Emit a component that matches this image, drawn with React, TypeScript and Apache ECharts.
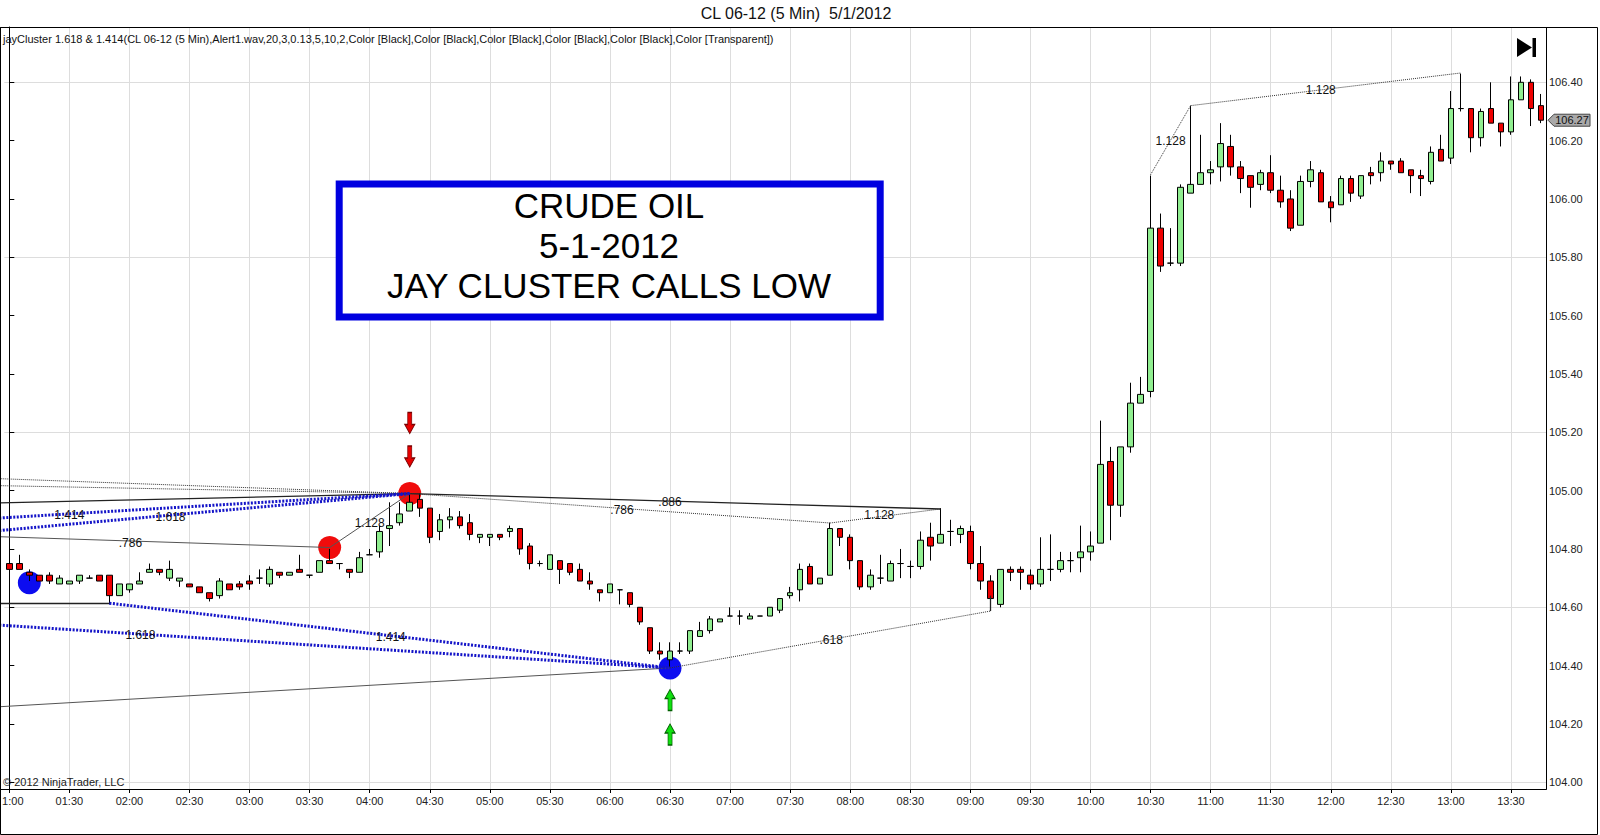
import React, { useEffect, useRef } from "react";
import * as echarts from "echarts";

// ---------- categories (5-minute bars, 01:00 .. 13:45) ----------
const times: string[] = [];
for (let m = 60; m <= 13 * 60 + 45; m += 5) {
  const h = Math.floor(m / 60);
  const mm = m % 60;
  times.push(`${h < 10 ? "0" : ""}${h}:${mm < 10 ? "0" : ""}${mm}`);
}

// ---------- OHLC values ----------
const opens = [
  104.75, 104.75, 104.72, 104.71, 104.71, 104.68, 104.68, 104.69, 104.70, 104.71,
  104.71, 104.64, 104.66, 104.68, 104.72, 104.73, 104.70, 104.69, 104.68, 104.67,
  104.65, 104.64, 104.68, 104.68, 104.69, 104.70, 104.68, 104.72, 104.71, 104.73,
  104.71, 104.72, 104.76, 104.75, 104.73, 104.72, 104.78, 104.79, 104.87, 104.89,
  104.93, 104.97, 104.94, 104.86, 104.90, 104.91, 104.89, 104.84, 104.84, 104.85,
  104.86, 104.87, 104.81, 104.75, 104.73, 104.76, 104.75, 104.73, 104.69, 104.66,
  104.65, 104.66, 104.65, 104.60, 104.53, 104.45, 104.42, 104.45, 104.45, 104.50,
  104.52, 104.55, 104.57, 104.57, 104.56, 104.57, 104.57, 104.59, 104.64, 104.66,
  104.74, 104.68, 104.71, 104.87, 104.84, 104.76, 104.67, 104.70, 104.69, 104.75,
  104.74, 104.74, 104.84, 104.82, 104.86, 104.85, 104.86, 104.75, 104.69, 104.61,
  104.73, 104.73, 104.71, 104.68, 104.73, 104.73, 104.76, 104.77, 104.79, 104.82,
  105.10, 104.95, 105.15, 105.30, 105.34, 105.90, 105.78, 105.78, 106.02, 106.05,
  106.09, 106.11, 106.18, 106.11, 106.08, 106.05, 106.09, 106.03, 106.00, 105.91,
  106.06, 106.09, 105.99, 105.98, 106.07, 106.01, 106.09, 106.09, 106.13, 106.13,
  106.10, 106.08, 106.06, 106.17, 106.14, 106.31, 106.31, 106.21, 106.31, 106.26,
  106.23, 106.34, 106.40, 106.32,
];
const closes = [
  104.73, 104.73, 104.71, 104.69, 104.69, 104.70, 104.69, 104.71, 104.70, 104.69,
  104.64, 104.68, 104.68, 104.69, 104.73, 104.72, 104.73, 104.70, 104.67, 104.65,
  104.63, 104.69, 104.66, 104.67, 104.68, 104.70, 104.73, 104.71, 104.72, 104.72,
  104.71, 104.76, 104.75, 104.75, 104.72, 104.77, 104.78, 104.86, 104.88, 104.92,
  104.96, 104.94, 104.84, 104.90, 104.91, 104.88, 104.85, 104.85, 104.85, 104.84,
  104.87, 104.80, 104.75, 104.75, 104.78, 104.73, 104.72, 104.69, 104.68, 104.65,
  104.68, 104.66, 104.61, 104.55, 104.45, 104.44, 104.45, 104.45, 104.52, 104.52,
  104.56, 104.56, 104.57, 104.57, 104.57, 104.57, 104.60, 104.63, 104.65, 104.73,
  104.68, 104.70, 104.87, 104.84, 104.76, 104.67, 104.71, 104.70, 104.75, 104.75,
  104.74, 104.83, 104.81, 104.85, 104.86, 104.87, 104.75, 104.69, 104.63, 104.73,
  104.72, 104.72, 104.68, 104.73, 104.73, 104.76, 104.76, 104.79, 104.81, 105.09,
  104.95, 105.15, 105.30, 105.33, 105.90, 105.77, 105.78, 106.04, 106.05, 106.09,
  106.10, 106.19, 106.11, 106.07, 106.04, 106.09, 106.03, 105.99, 105.90, 106.06,
  106.10, 105.99, 105.97, 106.07, 106.02, 106.08, 106.08, 106.13, 106.12, 106.09,
  106.08, 106.07, 106.16, 106.13, 106.31, 106.31, 106.21, 106.30, 106.26, 106.23,
  106.34, 106.40, 106.31, 106.27,
];
const lows = [
  104.73, 104.73, 104.69, 104.69, 104.68, 104.68, 104.68, 104.68, 104.70, 104.69,
  104.61, 104.64, 104.65, 104.68, 104.72, 104.71, 104.69, 104.67, 104.67, 104.65,
  104.62, 104.63, 104.66, 104.66, 104.66, 104.68, 104.67, 104.70, 104.71, 104.72,
  104.70, 104.72, 104.75, 104.73, 104.70, 104.72, 104.78, 104.77, 104.81, 104.88,
  104.93, 104.91, 104.82, 104.83, 104.87, 104.87, 104.83, 104.82, 104.81, 104.83,
  104.84, 104.78, 104.73, 104.74, 104.73, 104.68, 104.71, 104.69, 104.66, 104.62,
  104.65, 104.61, 104.60, 104.54, 104.44, 104.42, 104.39, 104.44, 104.44, 104.50,
  104.51, 104.55, 104.57, 104.54, 104.56, 104.57, 104.57, 104.58, 104.63, 104.62,
  104.68, 104.68, 104.71, 104.81, 104.73, 104.66, 104.66, 104.68, 104.69, 104.70,
  104.70, 104.73, 104.76, 104.82, 104.81, 104.82, 104.73, 104.66, 104.62, 104.60,
  104.69, 104.66, 104.66, 104.67, 104.69, 104.72, 104.72, 104.72, 104.76, 104.82,
  104.83, 104.91, 105.13, 105.30, 105.32, 105.75, 105.77, 105.77, 106.02, 106.05,
  106.05, 106.06, 106.08, 106.02, 105.97, 106.03, 106.02, 105.97, 105.89, 105.91,
  106.04, 105.99, 105.92, 105.98, 105.99, 106.00, 106.05, 106.06, 106.10, 106.09,
  106.02, 106.01, 106.05, 106.13, 106.12, 106.30, 106.16, 106.18, 106.26, 106.18,
  106.22, 106.34, 106.25, 106.26,
];
const highs = [
  104.76, 104.78, 104.73, 104.71, 104.72, 104.71, 104.69, 104.71, 104.71, 104.71,
  104.71, 104.68, 104.68, 104.72, 104.75, 104.73, 104.76, 104.70, 104.68, 104.67,
  104.65, 104.70, 104.68, 104.69, 104.71, 104.73, 104.74, 104.72, 104.72, 104.78,
  104.71, 104.76, 104.80, 104.75, 104.73, 104.79, 104.80, 104.88, 104.96, 104.96,
  104.99, 104.99, 104.94, 104.92, 104.94, 104.93, 104.92, 104.85, 104.85, 104.85,
  104.88, 104.87, 104.82, 104.76, 104.78, 104.76, 104.75, 104.75, 104.72, 104.66,
  104.68, 104.66, 104.65, 104.60, 104.53, 104.48, 104.48, 104.48, 104.52, 104.55,
  104.57, 104.56, 104.60, 104.59, 104.58, 104.57, 104.60, 104.63, 104.67, 104.75,
  104.75, 104.70, 104.89, 104.87, 104.85, 104.76, 104.73, 104.78, 104.76, 104.80,
  104.76, 104.86, 104.89, 104.94, 104.90, 104.88, 104.88, 104.81, 104.71, 104.73,
  104.74, 104.74, 104.73, 104.84, 104.85, 104.79, 104.79, 104.88, 104.86, 105.24,
  105.15, 105.15, 105.37, 105.39, 106.08, 105.95, 105.90, 106.05, 106.32, 106.22,
  106.13, 106.26, 106.22, 106.13, 106.08, 106.10, 106.15, 106.08, 106.03, 106.08,
  106.13, 106.10, 106.01, 106.08, 106.08, 106.08, 106.11, 106.16, 106.13, 106.14,
  106.10, 106.10, 106.18, 106.22, 106.37, 106.43, 106.31, 106.31, 106.40, 106.26,
  106.42, 106.42, 106.41, 106.36,
];

// ---------- axis ticks ----------
const yTickValues = [104.0, 104.2, 104.4, 104.6, 104.8, 105.0, 105.2, 105.4, 105.6, 105.8, 106.0, 106.2, 106.4];
const yGridValues = [104.0, 104.6, 105.2, 105.8, 106.4];
const xGridIndexes = [0, 6, 12, 18, 24, 30, 36, 42, 48, 54, 60, 66, 72, 78, 84, 90, 96, 102, 108, 114, 120, 126, 132, 138, 144, 150];
const firstTimeLabel = "1:00"; // the first label is shown cut to "1:00" at the chart's left edge

// ---------- jayCluster overlay (bar index, price) ----------
const blueDottedLines = [
  [[-1, 104.906], [40, 104.99]],
  [[-1, 104.863], [40, 104.99]],
  [[10, 104.614], [66, 104.392]],
  [[-1, 104.539], [66, 104.392]],
];
const blackDottedLines = [
  [[-1, 105.041], [40, 104.99]],
  [[-1, 105.017], [40, 104.99]],
  [[40, 104.99], [82, 104.889]],
  [[82, 104.889], [93, 104.937]],
  [[66, 104.392], [98, 104.587]],
  [[114, 106.083], [118, 106.32]],
  [[118, 106.32], [145, 106.432]],
];
const blackSolidLines = [
  [[-1, 104.958], [40, 104.99]],
  [[40, 104.99], [93, 104.937]],
  [[-1, 104.614], [10, 104.614]],
  [[98, 104.587], [98, 104.64]],
];
const graySolidLines = [
  [[-1, 104.842], [32, 104.805]],
  [[32, 104.805], [40, 104.99]],
  [[-1, 104.259], [66, 104.392]],
];
const lineLabels: [number, number, string][] = [
  [6, 104.917, "1.414"],
  [16.1, 104.909, "1.618"],
  [12.1, 104.822, ".786"],
  [36, 104.888, "1.128"],
  [13.1, 104.505, "1.618"],
  [38.1, 104.499, "1.414"],
  [61.2, 104.934, ".786"],
  [66, 104.962, ".886"],
  [86.9, 104.916, "1.128"],
  [82.1, 104.488, ".618"],
  [116, 106.199, "1.128"],
  [131, 106.374, "1.128"],
];
const blueCircles = [[2, 104.684], [66, 104.392]];
const redCircles = [[32, 104.805], [40, 104.99]];
const redArrows = [[40, 105.232], [40, 105.117]];
const greenArrows = [[66, 104.282], [66, 104.164]];

const boxLines = ["CRUDE OIL", "5-1-2012", "JAY CLUSTER CALLS LOW"];
const titleText = "CL 06-12 (5 Min)  5/1/2012";
const indicatorText =
  "jayCluster 1.618 & 1.414(CL 06-12 (5 Min),Alert1.wav,20,3,0.13,5,10,2,Color [Black],Color [Black],Color [Black],Color [Black],Color [Black],Color [Transparent])";
const copyrightText = "\u00a9 2012 NinjaTrader, LLC";

const FONT = 'Arial, "Liberation Sans", sans-serif';

function text(x: number, y: number, t: string, size: number, align = "left", fill = "#111") {
  return {
    type: "text",
    x,
    y,
    z: 100,
    silent: true,
    style: {
      text: t,
      fontSize: size,
      fontFamily: FONT,
      fill,
      textAlign: align,
      align,
      textVerticalAlign: "middle",
      verticalAlign: "middle",
    },
  };
}

export default function App() {
  const ref = useRef<HTMLDivElement>(null);

  useEffect(() => {
    if (!ref.current) return;
    const chart = echarts.init(ref.current, undefined, { renderer: "svg" });

    const candleData = opens.map((o, i) => [o, closes[i], lows[i], highs[i]]);
    const toLines = (arr: number[][][]) => arr.map((c) => ({ coords: c }));

    const baseGraphics: any[] = [
      text(796, 13, titleText, 16, "center", "#111"),
      text(3, 39, indicatorText, 11, "left", "#111"),
      text(3, 782, copyrightText, 11, "left", "#222"),
      {
        type: "rect",
        z: 100,
        silent: true,
        shape: { x: 0.5, y: 27.5, width: 1597, height: 807 },
        style: { fill: "none", stroke: "#000", lineWidth: 1 },
      },
      {
        type: "rect",
        z: 100,
        silent: true,
        shape: { x: 0.5, y: 27.5, width: 1546, height: 762 },
        style: { fill: "none", stroke: "#000", lineWidth: 1 },
      },
      {
        type: "rect",
        z: 100,
        silent: true,
        shape: { x: 339.2, y: 184.1, width: 541, height: 133 },
        style: { fill: "#fff", stroke: "#0000e0", lineWidth: 7 },
      },
      text(609, 205, boxLines[0], 35, "center", "#000"),
      text(609, 245, boxLines[1], 35, "center", "#000"),
      text(609, 285, boxLines[2], 35, "center", "#000"),
      {
        type: "polygon",
        z: 100,
        silent: true,
        shape: { points: [[1517, 38], [1517, 57], [1532, 47.5]] },
        style: { fill: "#000" },
      },
      {
        type: "rect",
        z: 100,
        silent: true,
        shape: { x: 1532.5, y: 38, width: 3.5, height: 19 },
        style: { fill: "#000" },
      },
    ];

    const option: any = {
      animation: false,
      backgroundColor: "#fff",
      grid: { left: 4.3, right: 54, top: 27, bottom: 46, containLabel: false, outerBoundsMode: "none" },
      xAxis: [
        {
          type: "category",
          data: times,
          boundaryGap: true,
          axisLine: { show: true, lineStyle: { color: "#000", width: 1 } },
          axisTick: { show: true, alignWithLabel: true, interval: 5, length: 4, lineStyle: { color: "#000" } },
          axisLabel: {
            interval: 5,
            color: "#222",
            fontSize: 11,
            fontFamily: FONT,
            margin: 6,
            hideOverlap: false,
            formatter: (v: string, idx: number) => (idx === 0 ? `{f|${firstTimeLabel}}` : v),
            rich: {
              f: { fontSize: 11, fontFamily: FONT, color: "#222", padding: [0, 0, 0, 7] },
            },
          },
          splitLine: { show: false },
        },
        { type: "value", min: -0.5, max: 153.5, show: false },
      ],
      yAxis: {
        type: "value",
        position: "right",
        min: 103.977,
        max: 106.5896,
        scale: true,
        axisLine: { show: true, lineStyle: { color: "#000", width: 1 } },
        axisTick: { show: true, customValues: yTickValues, length: 5, lineStyle: { color: "#000" } },
        axisLabel: {
          customValues: yTickValues,
          formatter: (v: number) => v.toFixed(2),
          color: "#222",
          fontSize: 11,
          fontFamily: FONT,
          margin: 3,
        },
        splitLine: { show: false },
      },
      graphic: baseGraphics,
      series: [
        {
          type: "line",
          xAxisIndex: 1,
          yAxisIndex: 0,
          data: [[-0.5, 104.0]],
          showSymbol: false,
          silent: true,
          z: 0,
          lineStyle: { opacity: 0 },
          markLine: {
            silent: true,
            z: 0,
            symbol: ["none", "none"],
            label: { show: false },
            lineStyle: { color: "#dddddd", width: 1, type: "solid" },
            emphasis: { disabled: true },
            data: [
              ...xGridIndexes.map((v) => ({ xAxis: v })),
              ...yGridValues.map((v) => ({ yAxis: v })),
            ],
          },
        },
        {
          type: "scatter",
          xAxisIndex: 1,
          yAxisIndex: 0,
          symbolSize: 23,
          z: 1,
          silent: true,
          itemStyle: { color: "#0c0cf0", opacity: 1 },
          data: blueCircles,
        },
        {
          type: "scatter",
          xAxisIndex: 1,
          yAxisIndex: 0,
          symbolSize: 23,
          z: 1,
          silent: true,
          itemStyle: { color: "#f00c0c", opacity: 1 },
          data: redCircles,
        },
        {
          type: "candlestick",
          xAxisIndex: 0,
          yAxisIndex: 0,
          z: 2,
          barWidth: 6,
          silent: true,
          itemStyle: {
            color: "#90ee90",
            color0: "#ee0000",
            borderColor: "#000",
            borderColor0: "#000",
            borderColorDoji: "#000",
            borderWidth: 1,
          },
          data: candleData,
        },
        {
          type: "lines",
          coordinateSystem: "cartesian2d",
          xAxisIndex: 1,
          yAxisIndex: 0,
          z: 3,
          clip: false,
          silent: true,
          lineStyle: { color: "#555", width: 1, type: "solid", opacity: 1 },
          data: toLines(graySolidLines),
        },
        {
          type: "lines",
          coordinateSystem: "cartesian2d",
          xAxisIndex: 1,
          yAxisIndex: 0,
          z: 3,
          clip: false,
          silent: true,
          lineStyle: { color: "#222", width: 1.3, type: "solid", opacity: 1 },
          data: toLines(blackSolidLines),
        },
        {
          type: "lines",
          coordinateSystem: "cartesian2d",
          xAxisIndex: 1,
          yAxisIndex: 0,
          z: 3,
          clip: false,
          silent: true,
          lineStyle: { color: "#333", width: 1, type: [1, 1], opacity: 1 },
          data: toLines(blackDottedLines),
        },
        {
          type: "lines",
          coordinateSystem: "cartesian2d",
          xAxisIndex: 1,
          yAxisIndex: 0,
          z: 3,
          clip: false,
          silent: true,
          lineStyle: { color: "#1414c8", width: 3, type: [2, 1.5], opacity: 1 },
          data: toLines(blueDottedLines),
        },
        {
          type: "scatter",
          xAxisIndex: 1,
          yAxisIndex: 0,
          z: 4,
          silent: true,
          symbol: "path://M3,0 L7,0 L7,12 L10,12 L5,21 L0,12 L3,12 Z",
          symbolSize: [10, 21],
          itemStyle: { color: "#e80000", borderColor: "#7a0000", borderWidth: 1, opacity: 1 },
          data: redArrows,
        },
        {
          type: "scatter",
          xAxisIndex: 1,
          yAxisIndex: 0,
          z: 4,
          silent: true,
          symbol: "path://M5,0 L10,9 L7,9 L7,21 L3,21 L3,9 L0,9 Z",
          symbolSize: [10, 21],
          itemStyle: { color: "#10e010", borderColor: "#006000", borderWidth: 1, opacity: 1 },
          data: greenArrows,
        },
        {
          type: "scatter",
          xAxisIndex: 1,
          yAxisIndex: 0,
          z: 5,
          silent: true,
          symbolSize: 1,
          itemStyle: { color: "rgba(0,0,0,0)", opacity: 1 },
          label: {
            show: true,
            position: "inside",
            formatter: "{b}",
            color: "#111",
            opacity: 1,
            fontSize: 12,
            fontFamily: FONT,
          },
          data: lineLabels.map(([i, p, t]) => ({ name: t, value: [i, p] })),
        },
      ],
    };

    chart.setOption(option);

    const lastPrice = closes[closes.length - 1];
    const yPix = chart.convertToPixel({ yAxisIndex: 0 }, lastPrice) as number;
    const tag: any[] = [
      {
        type: "polygon",
        z: 101,
        silent: true,
        shape: {
          points: [
            [1548, yPix],
            [1554, yPix - 6],
            [1590, yPix - 6],
            [1590, yPix + 6],
            [1554, yPix + 6],
          ],
        },
        style: { fill: "#a9a9a9", stroke: "#444", lineWidth: 1 },
      },
      { ...text(1572, yPix, lastPrice.toFixed(2), 11, "center", "#111"), z: 102 },
    ];
    chart.setOption({ graphic: { elements: [...baseGraphics, ...tag] } });

    return () => chart.dispose();
  }, []);

  return (
    <div
      ref={ref}
      style={{ position: "absolute", left: 0, top: 0, width: 1600, height: 835, background: "#fff" }}
    />
  );
}
